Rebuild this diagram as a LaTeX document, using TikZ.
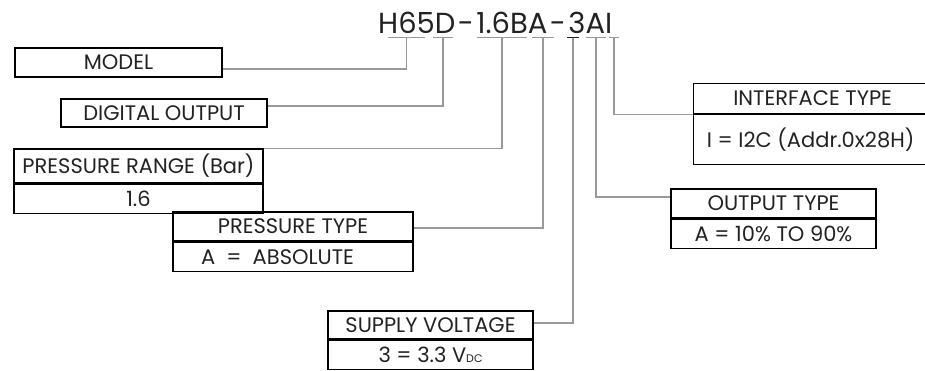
\documentclass[tikz,border=0pt]{standalone}
\usepackage{fontspec}
\setmainfont{Poppins}
\definecolor{txt}{HTML}{222222}
\definecolor{conn}{HTML}{999999}
\begin{document}
\begin{tikzpicture}[x=1pt,y=-1pt,
  cell/.style={draw=black,line width=1.2pt,inner sep=0pt,text=txt,font=\fontsize{21}{24}\selectfont},
  tg/.style={inner sep=0pt,anchor=base west,text=txt,font=\fontsize{29}{32}\selectfont},
  ul/.style={draw=conn,line width=1.4pt},
  ulk/.style={draw=txt,line width=1.6pt},
  cn/.style={draw=conn,line width=1.2pt}]
\useasboundingbox (0,0) rectangle (925,370);
% title
\node[tg] (title) at (378,33) {H65D\kern2.5pt-\kern2.5pt1.6BA\kern2.5pt-\kern2.5pt3AI};
% underlines (offsets from the start of the title)
\draw[ul] ([shift={(10,4.5)}]title.base west) -- coordinate (u1) ([shift={(47,4.5)}]title.base west);
\draw[ul] ([shift={(55,4.5)}]title.base west) -- coordinate (u2) ([shift={(75,4.5)}]title.base west);
\draw[ul] ([shift={(99,4.5)}]title.base west) -- coordinate (u4) ([shift={(149,4.5)}]title.base west);
\draw[ul] ([shift={(154,4.5)}]title.base west) -- coordinate (u6) ([shift={(176,4.5)}]title.base west);
\draw[ulk] ([shift={(189,4.5)}]title.base west) -- coordinate (u8) ([shift={(201,4.5)}]title.base west);
\draw[ul] ([shift={(208,4.5)}]title.base west) -- coordinate (u9) ([shift={(228,4.5)}]title.base west);
\draw[ul] ([shift={(231,4.5)}]title.base west) -- coordinate (u10) ([shift={(241,4.5)}]title.base west);
% boxes
\node[cell,minimum width=207,minimum height=29] (model) at (118.5,62.5) {MODEL};
\node[cell,minimum width=206,minimum height=28] (dig) at (164,113) {DIGITAL OUTPUT};
\node[cell,minimum width=249,minimum height=34] (prt) at (138.5,166) {PRESSURE RANGE (Bar)};
\node[cell,minimum width=249,minimum height=29,anchor=north] (prv) at (prt.south) {1.6};
\node[cell,minimum width=240,minimum height=29] (ptt) at (293,226.5) {PRESSURE TYPE};
\node[cell,minimum width=240,minimum height=29,anchor=north] (ptv) at (ptt.south) {\hspace*{-31pt}A\ \ =\ \ ABSOLUTE};
\node[cell,minimum width=250,minimum height=30,anchor=north west] (ift) at (693,83) {\hspace*{-12pt}INTERFACE TYPE};
\node[cell,minimum width=250,minimum height=50,anchor=north] (ifv) at (ift.south) {\hspace*{-16pt}I = I2C (Addr.0x28H)};
\node[cell,minimum width=205,minimum height=29] (ott) at (773.5,203.5) {OUTPUT TYPE};
\node[cell,minimum width=205,minimum height=29,anchor=north] (otv) at (ott.south) {A = 10\% TO 90\%};
\node[cell,minimum width=205,minimum height=28] (svt) at (430.5,325) {SUPPLY VOLTAGE};
\node[cell,minimum width=205,minimum height=29,anchor=north] (svv) at (svt.south) {3 = 3.3 V{\fontsize{11}{12}\selectfont DC}};
% connectors
\draw[cn] (u1) |- ([yshift=-6.5pt]model.east);
\draw[cn] (u2) |- ([yshift=7pt]dig.east);
\draw[cn] (u4) |- (prt.north east);
\draw[cn] (u6) |- ([yshift=-1.5pt]ptt.east);
\draw[cn] (u8) |- ([yshift=2pt]svt.east);
\draw[cn] (u9) |- ([yshift=6.5pt]ott.west);
\draw[cn] (u10) |- (ift.south west);
\end{tikzpicture}
\end{document}
